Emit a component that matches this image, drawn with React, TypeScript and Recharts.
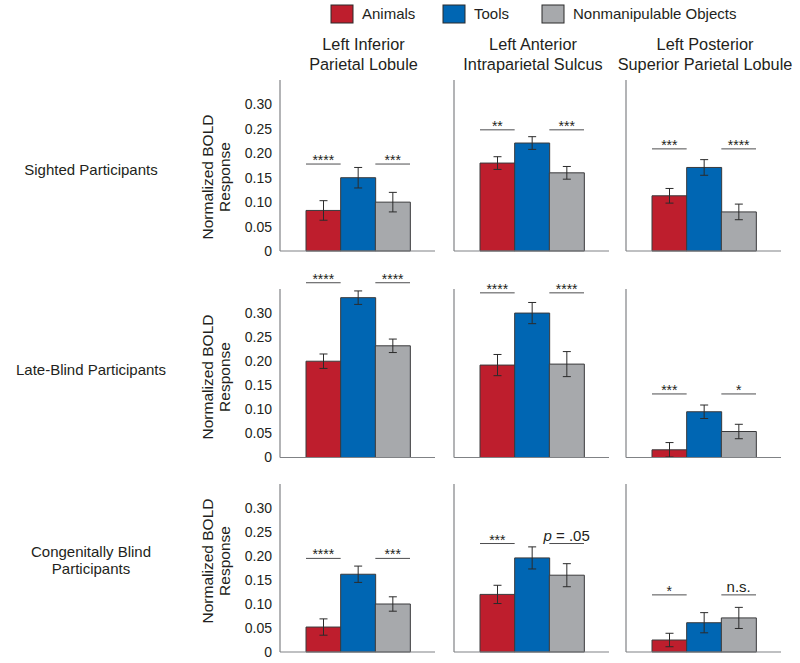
import React from "react";
import { BarChart, Bar, XAxis, YAxis, Cell, ErrorBar, ReferenceLine } from "recharts";

const categories = ["Animals", "Tools", "Nonmanipulable Objects"];
const regionTitles = [
  ["Left Inferior", "Parietal Lobule"],
  ["Left Anterior", "Intraparietal Sulcus"],
  ["Left Posterior", "Superior Parietal Lobule"],
];
const groupLabels = [
  ["Sighted Participants"],
  ["Late-Blind Participants"],
  ["Congenitally Blind", "Participants"],
];
const yTicks = [0, 0.05, 0.1, 0.15, 0.2, 0.25, 0.3];

// one row per region (IPL, aIPS, SPL), values for animals / tools / objects
const sightedMeans = [
  [0.083, 0.15, 0.1],
  [0.18, 0.221, 0.16],
  [0.113, 0.171, 0.08],
];
const sightedErrors = [
  [0.02, 0.021, 0.02],
  [0.013, 0.013, 0.013],
  [0.015, 0.016, 0.016],
];
const lateBlindMeans = [
  [0.2, 0.332, 0.232],
  [0.192, 0.3, 0.194],
  [0.016, 0.095, 0.054],
];
const lateBlindErrors = [
  [0.015, 0.014, 0.014],
  [0.022, 0.022, 0.026],
  [0.015, 0.014, 0.015],
];
const congenitalMeans = [
  [0.052, 0.162, 0.1],
  [0.12, 0.196, 0.16],
  [0.025, 0.061, 0.071],
];
const congenitalErrors = [
  [0.017, 0.017, 0.015],
  [0.019, 0.023, 0.024],
  [0.014, 0.021, 0.022],
];

// significance labels: [animals vs tools, tools vs objects]
const sightedSig = [["****", "***"], ["**", "***"], ["***", "****"]];
const lateBlindSig = [["****", "****"], ["****", "****"], ["***", "*"]];
const congenitalSig = [["****", "***"], ["***", "p = .05"], ["*", "n.s."]];
const sightedSigLevel = [0.178, 0.248, 0.209];
const lateBlindSigLevel = [0.363, 0.342, 0.132];
const congenitalSigLevel = [0.195, 0.226, 0.119];

const groups = [
  { means: sightedMeans, errors: sightedErrors, sig: sightedSig, level: sightedSigLevel },
  { means: lateBlindMeans, errors: lateBlindErrors, sig: lateBlindSig, level: lateBlindSigLevel },
  { means: congenitalMeans, errors: congenitalErrors, sig: congenitalSig, level: congenitalSigLevel },
];

const COLORS = ["#BE1E2D", "#0066B3", "#A7A9AC"];
const TEXT = "#231F20";
const AXIS = "#808285";
const FONT = "'Liberation Sans', Arial, sans-serif";

// layout
const colAxisX = [280, 454, 626];
const rowTop = [80, 289, 484];
const rowPlotH = [171, 168.5, 168];
const YW = 70;
const PW = 155;
const RM = 5;
const TM = 40;
const XH = 10;

const sigShape = (label: string) => (p: any) => {
  const { x1, y1, x2 } = p;
  const stars = label.startsWith("*");
  const cx = (x1 + x2) / 2;
  return (
    <g>
      <line x1={x1} y1={y1} x2={x2} y2={y1} stroke="#4D4D4F" strokeWidth={1} />
      <text
        x={cx}
        y={stars ? y1 + 1 : y1 - 3}
        textAnchor="middle"
        fontSize={stars ? 14 : 15}
        fill={TEXT}
        fontFamily={FONT}
      >
        {label === "p = .05" ? (
          <>
            <tspan fontStyle="italic">p</tspan> = .05
          </>
        ) : (
          label
        )}
      </text>
    </g>
  );
};

function Panel({ row, col }: { row: number; col: number }) {
  const g = groups[row];
  const data = categories.map((c, i) => ({
    name: c,
    value: g.means[col][i],
    err: g.errors[col][i],
  }));
  const lvl = g.level[col];
  const plotH = rowPlotH[row];
  return (
    <div style={{ position: "absolute", left: colAxisX[col] - YW, top: rowTop[row] - TM }}>
      <BarChart
        width={YW + PW + RM}
        height={TM + plotH + XH}
        data={data}
        margin={{ top: TM, right: RM, bottom: 0, left: 0 }}
        barCategoryGap={0}
      >
        <XAxis
          dataKey="name"
          tick={false}
          tickLine={false}
          height={XH}
          axisLine={{ stroke: AXIS, strokeWidth: 1.2 }}
          padding={{ left: 26, right: 25 }}
        />
        <YAxis
          type="number"
          domain={[0, 0.35]}
          ticks={yTicks}
          width={YW}
          tickLine={false}
          axisLine={{ stroke: AXIS, strokeWidth: 1.2 }}
          tick={col === 0 ? { fontSize: 14, fill: TEXT, fontFamily: FONT } : false}
          tickFormatter={(v: number) => (v === 0 ? "0" : v.toFixed(2))}
          interval={0}
        />
        <Bar dataKey="value" isAnimationActive={false} stroke="#3A3A3C" strokeWidth={1}>
          {data.map((d, i) => (
            <Cell key={d.name} fill={COLORS[i]} />
          ))}
          <ErrorBar dataKey="err" width={4} stroke="#2B2B2B" strokeWidth={1} direction="y" />
        </Bar>
        <ReferenceLine
          segment={[
            { x: categories[0], y: lvl },
            { x: categories[1], y: lvl },
          ]}
          position="start"
          ifOverflow="visible"
          shape={sigShape(g.sig[col][0])}
        />
        <ReferenceLine
          segment={[
            { x: categories[1], y: lvl },
            { x: categories[2], y: lvl },
          ]}
          position="end"
          ifOverflow="visible"
          shape={sigShape(g.sig[col][1])}
        />
      </BarChart>
    </div>
  );
}

const legendX = [331, 443, 542];
const titleCX = [363.5, 533, 705];
const rowLabelY = [[175], [375], [557, 574]];
const yLabelCY = [177, 377, 561];

export default function App() {
  return (
    <div
      style={{
        position: "absolute",
        left: 0,
        top: 0,
        width: 800,
        height: 663,
        background: "#fff",
        fontFamily: FONT,
      }}
    >
      <svg width={800} height={663} style={{ position: "absolute", left: 0, top: 0 }}>
        {categories.map((c, i) => (
          <g key={c}>
            <rect x={legendX[i]} y={5} width={22} height={18} fill={COLORS[i]} stroke="#2B2B2B" strokeWidth={1} />
            <text x={legendX[i] + 31} y={19} fontSize={15} fill={TEXT} fontFamily={FONT}>
              {c}
            </text>
          </g>
        ))}
        {regionTitles.map((lines, i) =>
          lines.map((t, j) => (
            <text
              key={t}
              x={titleCX[i]}
              y={49.5 + j * 20}
              textAnchor="middle"
              fontSize={16.3}
              fill={TEXT}
              fontFamily={FONT}
            >
              {t}
            </text>
          ))
        )}
        {groupLabels.map((lines, i) =>
          lines.map((t, j) => (
            <text
              key={t}
              x={91}
              y={rowLabelY[i][j]}
              textAnchor="middle"
              fontSize={15}
              fill={TEXT}
              fontFamily={FONT}
            >
              {t}
            </text>
          ))
        )}
        {yLabelCY.map((cy, i) => (
          <g key={i}>
            <text
              transform={`translate(213, ${cy}) rotate(-90)`}
              textAnchor="middle"
              fontSize={15.5}
              fill={TEXT}
              fontFamily={FONT}
            >
              Normalized BOLD
            </text>
            <text
              transform={`translate(230, ${cy}) rotate(-90)`}
              textAnchor="middle"
              fontSize={15.5}
              fill={TEXT}
              fontFamily={FONT}
            >
              Response
            </text>
          </g>
        ))}
      </svg>
      {[0, 1, 2].map((r) => [0, 1, 2].map((c) => <Panel key={`${r}-${c}`} row={r} col={c} />))}
    </div>
  );
}
